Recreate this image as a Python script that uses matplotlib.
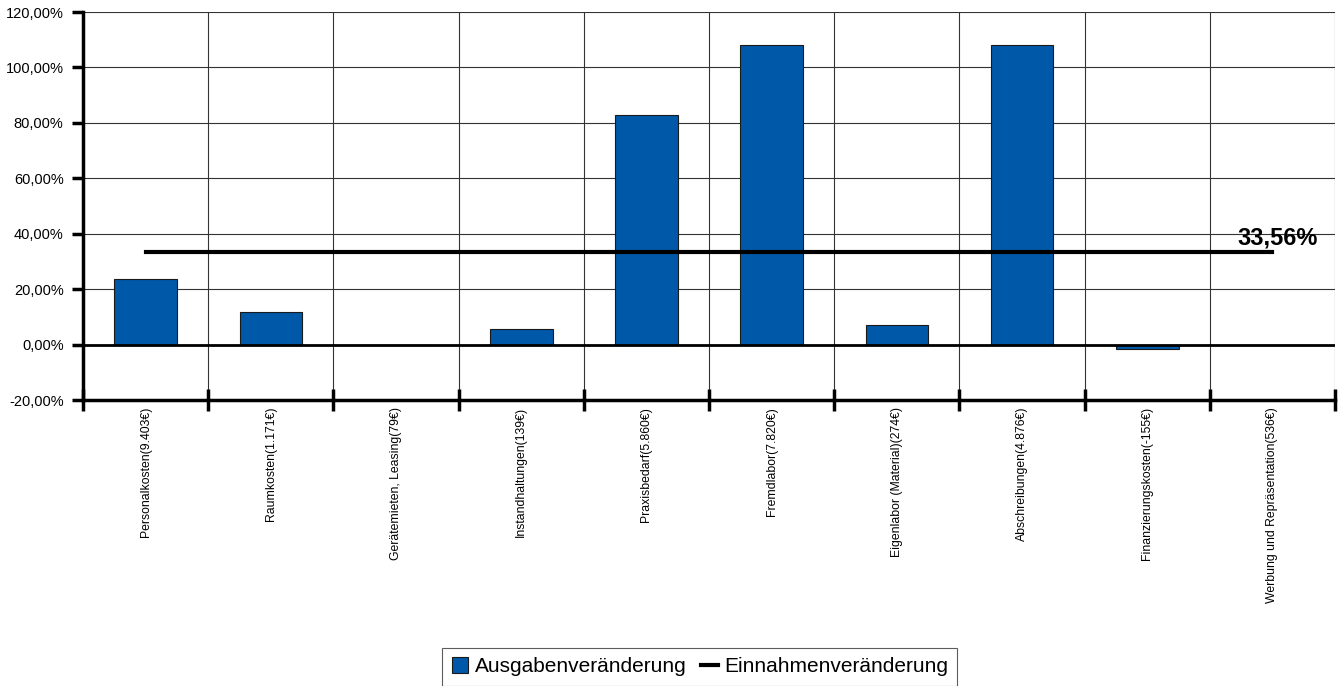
import matplotlib.pyplot as plt
import numpy as np
from matplotlib.ticker import FuncFormatter, FixedLocator

plt.rcParams['font.family'] = ['Liberation Sans', 'DejaVu Sans']

# Data
categories = ["Personalkosten(9.403€)", "Raumkosten(1.171€)", "Gerätemieten, Leasing(79€)",
              "Instandhaltungen(139€)", "Praxisbedarf(5.860€)", "Fremdlabor(7.820€)",
              "Eigenlabor (Material)(274€)", "Abschreibungen(4.876€)",
              "Finanzierungskosten(-155€)", "Werbung und Repräsentation(536€)"]
ausgaben = [23.8, 11.9, 0.0, 5.6, 83.0, 108.2, 7.2, 108.1, -1.5, 0.0]
einnahmen = 33.56

fig = plt.figure(figsize=(13.43, 6.86), dpi=100)
ax = fig.add_axes([83/1343, 1 - 400/686, (1335-83)/1343, (400-12)/686])

x = np.arange(len(categories))
bars = ax.bar(x, ausgaben, width=0.5, color='#0058A8', edgecolor='#1a1a1a', linewidth=0.8,
              label='Ausgabenveränderung', zorder=3)
line, = ax.plot(x, [einnahmen] * len(x), color='black', linewidth=3,
                label='Einnahmenveränderung', zorder=4)
ax.axhline(0, color='black', linewidth=2, zorder=3)
ax.text(x[-1] + 0.36, einnahmen + 0.8, "33,56%", fontsize=17, fontweight='bold',
        ha='right', va='bottom', zorder=5)

ax.set_xlim(-0.5, len(categories) - 0.5)
ax.set_ylim(-20, 120)
ax.set_yticks(np.arange(-20, 121, 20))
ax.yaxis.set_major_formatter(FuncFormatter(lambda v, p: f"{v:.2f}%".replace('.', ',')))
ax.tick_params(axis='y', labelsize=10.5, length=8, width=2.5, direction='out', pad=6)

# category boundaries for ticks/grid
bounds = np.arange(-0.5, len(categories), 1.0)
ax.xaxis.set_major_locator(FixedLocator(bounds))
ax.xaxis.set_minor_locator(FixedLocator(x))
ax.set_xticklabels([])
ax.set_xticklabels(categories, minor=True, rotation=90, fontsize=8.8)
ax.tick_params(axis='x', which='major', length=16, width=2.5, direction='inout')
ax.tick_params(axis='x', which='minor', length=0, pad=5)
for lbl in ax.get_xticklabels(minor=True):
    lbl.set_va('top')

ax.grid(True, which='major', color='#333333', linewidth=0.8, zorder=0)
ax.set_axisbelow(True)

for s in ['top', 'right']:
    ax.spines[s].set_visible(False)
ax.spines['left'].set_linewidth(2.5)
ax.spines['bottom'].set_linewidth(2.5)

leg = fig.legend([bars, line], ['Ausgabenveränderung', 'Einnahmenveränderung'],
                 loc='lower center', bbox_to_anchor=(0.521, -0.015), ncol=2, fontsize=15,
                 frameon=True, fancybox=False, edgecolor='#333333', handlelength=0.8,
                 handleheight=0.8, handletextpad=0.3, columnspacing=0.7, borderpad=0.45)
leg.get_frame().set_linewidth(0.8)

plt.savefig("out.png", dpi=100)
